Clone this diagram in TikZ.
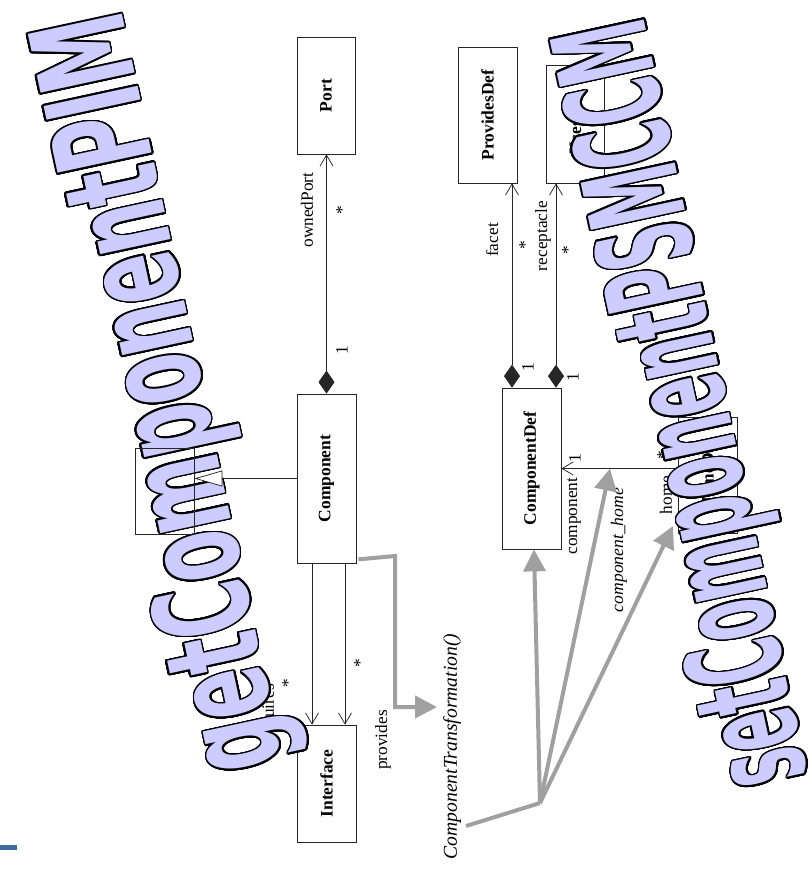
\documentclass[tikz,border=0pt]{standalone}
\usepackage{fontspec}
\setmainfont{Liberation Serif}
\newfontfamily\wafont{DejaVu Sans}
\usepackage{contour}
\contournumber{32}
\usetikzlibrary{arrows.meta}
\definecolor{lav}{RGB}{204,204,255}
\definecolor{flow}{RGB}{160,160,160}
\definecolor{barblue}{RGB}{62,106,160}

\begin{document}
\begin{tikzpicture}[x=1pt,y=-1pt,
  cls/.style={draw=black!85, line width=0.75pt, fill=white, inner sep=0pt,
    font=\bfseries\fontsize{17.5}{20}\selectfont},
  lbl/.style={inner sep=0pt, rotate=90, font=\fontsize{17.3}{20}\selectfont},
  assoc/.style={draw=black!85, line width=0.75pt},
  navi/.style={assoc, -{Straight Barb[length=11pt,width=13pt]}},
  owned/.style={assoc, {Diamond[length=23pt,width=16pt]}-{Straight Barb[length=11pt,width=13pt]}},
  flowline/.style={draw=flow, line width=4pt},
  flowarrow/.style={flowline, -{Triangle[length=22pt,width=22pt]}},
  wa/.style={inner sep=0pt, anchor=base west, rotate=102.2,
    font=\wafont\bfseries\fontsize{132}{132}\selectfont}]
\useasboundingbox (0,0) rectangle (811,872);

% ---------- PIM side: classes ----------
\node[cls, minimum width=58pt, minimum height=117pt] (port) at (326,95.5) {\rotatebox{90}{Port}};
\node[cls, minimum width=59pt, minimum height=169pt] (component) at (326.5,478.5) {\rotatebox{90}{Component}};
\node[cls, minimum width=59pt, minimum height=117pt] (interface) at (326.5,783.5) {\rotatebox{90}{Interface}};

% ---------- CCM side: classes ----------
\node[cls, minimum width=59pt, minimum height=136pt] (provdef) at (487.5,115) {\rotatebox{90}{ProvidesDef}};
\node[cls, minimum width=58pt, minimum height=118pt] (usesdef) at (575,124) {\rotatebox{90}{UsesDef}};
\node[cls, minimum width=59pt, minimum height=161pt] (compdef) at (531.5,468.5) {\rotatebox{90}{ComponentDef}};
\node[cls, minimum width=59pt, minimum height=116pt] (homedef) at (707.5,475) {\rotatebox{90}{HomeDef}};

% ---------- PIM associations ----------
\draw[owned] (component.north) -- (component.north |- port.south);
\coordinate (reqA) at ([xshift=-14.5pt]component.south);
\coordinate (provA) at ([xshift=18.5pt]component.south);
\draw[navi] (reqA) -- (reqA |- interface.north);
\draw[navi] (provA) -- (provA |- interface.north);

\node[lbl] (l-owned) at (307,210) {ownedPort};
\node[lbl] (l-ownstar) at (342,210) {*};
\node[lbl] (l-ownone) at (342,350) {1};
\node[lbl] (l-req) at (270,712) {requires};
\node[lbl] (l-reqstar) at (288,683) {*};
\node[lbl] (l-provstar) at (360,663) {*};
\node[lbl] (l-prov) at (383,740) {provides};

% ---------- CCM associations ----------
\coordinate (facA) at ([xshift=-19.5pt]compdef.north);
\coordinate (recA) at ([xshift=24.5pt]compdef.north);
\draw[owned] (facA) -- (facA |- provdef.south);
\draw[owned] (recA) -- (recA |- usesdef.south);
\draw[navi] (homedef.west |- compdef.east) -- (compdef.east);

\node[lbl] (l-facet) at (492,240) {facet};
\node[lbl] (l-facetstar) at (525,245) {*};
\node[lbl] (l-facetone) at (528,367) {1};
\node[lbl] (l-recep) at (543,236) {receptacle};
\node[lbl] (l-recepstar) at (568,250) {*};
\node[lbl] (l-recepone) at (573,377) {1};
\node[lbl] (l-compone) at (575,458) {1};
\node[lbl] (l-comp) at (574,516) {component};
\node[lbl] (l-homestar) at (663,455) {*};
\node[lbl] (l-home) at (666,495) {home};
\node[lbl, font=\itshape\fontsize{17.6}{20}\selectfont] (l-ch) at (619,550) {component\_home};
\node[lbl, font=\itshape\fontsize{19.6}{22}\selectfont] (l-ct) at (452,746.5) {ComponentTransformation()};

% ---------- transformation flow ----------
\coordinate (bend1) at (395,556);
\coordinate (ctip) at (437,707);
\draw[flowarrow] ([shift={(2pt,4pt)}]component.south east) -- (bend1) |- (ctip);

\coordinate (tail) at (466,826);
\coordinate (hub) at (540,803);
\coordinate (chmid) at (610,468.5);
\coordinate (hometip) at (673,526);
\draw[flowline] (tail) -- (hub);
\draw[flowarrow] (hub) -- ([xshift=2.5pt]compdef.south);
\draw[flowarrow] (hub) -- (chmid);
\draw[flowarrow] (hub) -- (hometip);

\fill[barblue] (0,845) rectangle (17,850);

% ---------- outlined banner titles: black rim, then lavender face ----------
\node[wa] (titleL-edge) at (284,763)
  {\color{black}\contourlength{1.6pt}\contour{black}{\scalebox{0.562}[1]{getComponentPIM}}};
\node[wa] (titleL) at (284,763)
  {\color{lav}\scalebox{0.562}[1]{getComponentPIM}};
\node[wa] (titleR-edge) at (808,777)
  {\color{black}\contourlength{1.6pt}\contour{black}{\scalebox{0.451}[1]{setComponentPSMCCM}}};
\node[wa] (titleR) at (808,777)
  {\color{lav}\scalebox{0.451}[1]{setComponentPSMCCM}};

% ---------- superclass of Component (drawn over the banner) ----------
\node[draw=black!85, line width=0.75pt, minimum width=59pt, minimum height=86pt, inner sep=0pt] (super) at (164.5,491) {};
\draw[assoc, -{Triangle[open, fill=white, length=28pt, width=16pt]}] (component.west) -- (component.west -| super.east);
\end{tikzpicture}
\end{document}
